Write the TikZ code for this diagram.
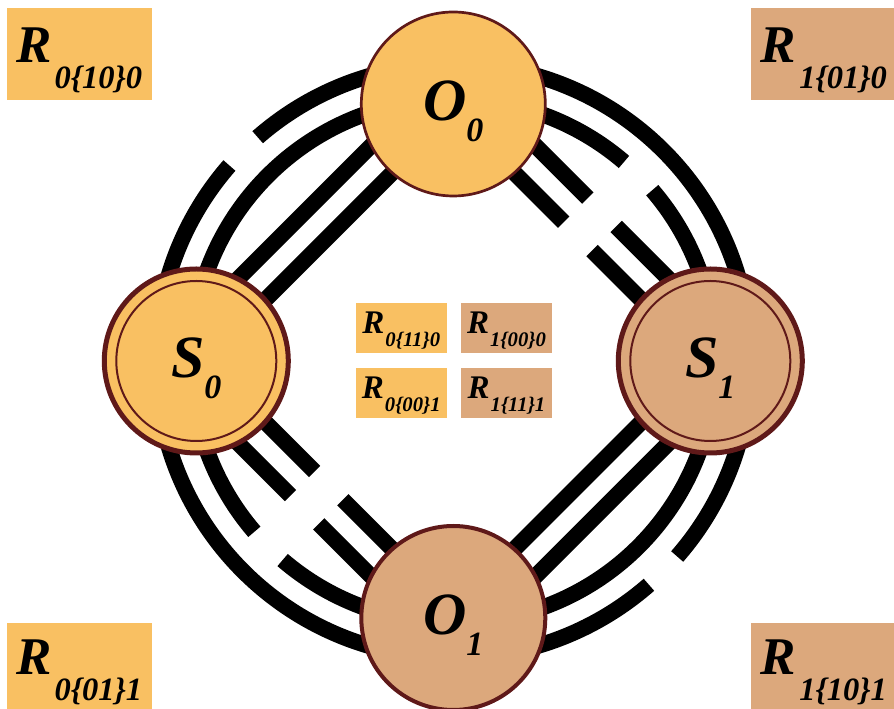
\documentclass[tikz,border=0pt]{standalone}
\usepackage{fontspec}
\setmainfont{Liberation Serif}
\usetikzlibrary{backgrounds}

\definecolor{paleorange}{HTML}{F9C062}
\definecolor{paletan}{HTML}{DCA87C}
\definecolor{rim}{RGB}{95,25,25}

% R with a low index, three sizes
\newcommand{\cornerlbl}[1]{{\fontsize{53}{53}\selectfont R}\hspace{3pt}\raisebox{-26pt}{\fontsize{32.5}{32.5}\selectfont #1}}
\newcommand{\midlbl}[1]{{\fontsize{33}{33}\selectfont R}\hspace{1pt}\raisebox{-13.4pt}{\fontsize{20.7}{20.7}\selectfont #1}}
\newcommand{\statelbl}[2]{{\fontsize{60}{60}\selectfont #1}\raisebox{-21pt}{\fontsize{34}{34}\selectfont #2}}

\begin{document}
\begin{tikzpicture}[x=1pt,y=1pt,font=\bfseries\itshape,
  stnode/.style={circle,draw=rim,fill=#1,minimum size=184pt,inner sep=0pt,text height=47pt,text depth=13pt},
  ring/.style={path picture={\draw[rim,line width=2pt] (path picture bounding box.center) circle[radius=80pt];}},
  cornerbox/.style={fill=#1,minimum width=145pt,minimum height=91.7pt,inner sep=0pt,text height=44pt,text depth=26.4pt},
  midbox/.style={fill=#1,minimum width=91pt,minimum height=50pt,inner sep=0pt,text height=25pt,text depth=15pt},
  wire/.style={line width=16pt},
  gapped/.style={dash pattern=on #1 off 40pt on 500pt}]
\useasboundingbox (0,0) rectangle (894,709);

\node (O0) [stnode=paleorange,line width=2.7pt] at (453.3,605) {\statelbl{O}{0}};
\node (S0) [stnode=paleorange,ring,line width=5pt] at (196.3,348) {\statelbl{S}{0}};
\node (S1) [stnode=paletan,ring,line width=5pt] at (710.3,348) {\statelbl{S}{1}};
\node (O1) [stnode=paletan,line width=4pt] at (453.3,91) {\statelbl{O}{1}};

\node (Rtl) [cornerbox=paleorange] at (79.2,654.8) {\cornerlbl{0\{10\}0}};
\node (Rtr) [cornerbox=paletan] at (823.9,654.8) {\cornerlbl{1\{01\}0}};
\node (Rbl) [cornerbox=paleorange,text depth=31pt] at (79.2,40.5) {\cornerlbl{0\{01\}1}};
\node (Rbr) [cornerbox=paletan,text depth=31pt] at (823.9,40.5) {\cornerlbl{1\{10\}1}};

\node (Ra) [midbox=paleorange] at (401.3,380.7) {\midlbl{0\{11\}0}};
\node (Rb) [midbox=paletan] at (506.5,380.7) {\midlbl{1\{00\}0}};
\node (Rc) [midbox=paleorange] at (401.3,315.5) {\midlbl{0\{00\}1}};
\node (Rd) [midbox=paletan] at (506.5,315.5) {\midlbl{1\{11\}1}};

\begin{scope}[on background layer]
% S0 to O0
\draw[wire,gapped=213.3pt] ([shift={(-40,0)}]S0.center) to[bend left=45] ([shift={(0,40)}]O0.center);
\draw[wire] ([shift={(-5,0)}]S0.center) to[bend left=45] ([shift={(0,5)}]O0.center);
\draw[wire] ([shift={(-20.2,20.2)}]S0.center) -- ([shift={(-20.2,20.2)}]O0.center);
\draw[wire] ([shift={(3.9,-3.9)}]S0.center) -- ([shift={(3.9,-3.9)}]O0.center);
% O0 to S1
\draw[wire] ([shift={(0,40)}]O0.center) to[bend left=45] ([shift={(40,0)}]S1.center);
\draw[wire,gapped=185.8pt] ([shift={(0,5)}]O0.center) to[bend left=45] ([shift={(5,0)}]S1.center);
\draw[wire,gapped=161.7pt] ([shift={(20.2,20.2)}]O0.center) -- ([shift={(20.2,20.2)}]S1.center);
\draw[wire,gapped=161.7pt] ([shift={(-3.9,-3.9)}]O0.center) -- ([shift={(-3.9,-3.9)}]S1.center);
% S1 to O1
\draw[wire,gapped=213.3pt] ([shift={(40,0)}]S1.center) to[bend left=45] ([shift={(0,-40)}]O1.center);
\draw[wire] ([shift={(5,0)}]S1.center) to[bend left=45] ([shift={(0,-5)}]O1.center);
\draw[wire] ([shift={(20.2,-20.2)}]S1.center) -- ([shift={(20.2,-20.2)}]O1.center);
\draw[wire] ([shift={(-3.9,3.9)}]S1.center) -- ([shift={(-3.9,3.9)}]O1.center);
% O1 to S0
\draw[wire] ([shift={(0,-40)}]O1.center) to[bend left=45] ([shift={(-40,0)}]S0.center);
\draw[wire,gapped=185.8pt] ([shift={(0,-5)}]O1.center) to[bend left=45] ([shift={(-5,0)}]S0.center);
\draw[wire,gapped=161.7pt] ([shift={(-20.2,-20.2)}]O1.center) -- ([shift={(-20.2,-20.2)}]S0.center);
\draw[wire,gapped=161.7pt] ([shift={(3.9,3.9)}]O1.center) -- ([shift={(3.9,3.9)}]S0.center);
\end{scope}
\end{tikzpicture}
\end{document}
